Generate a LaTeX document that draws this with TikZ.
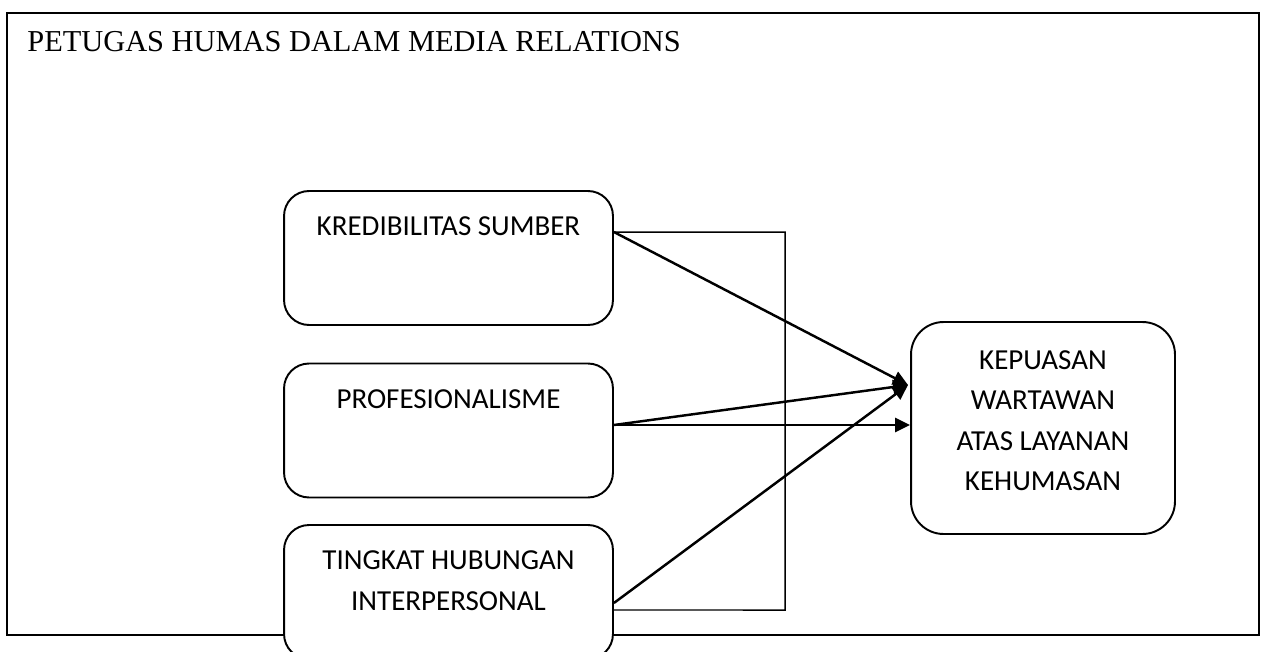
\documentclass[tikz,border=0pt]{standalone}
\usepackage{fontspec}
\setmainfont{Carlito}
\newfontfamily\titlefont{Liberation Serif}
\usetikzlibrary{shapes,arrows.meta,positioning}

\begin{document}
\begin{tikzpicture}[x=0.02cm,y=-0.02cm]
\tikzset{var/.style={draw,line width=1.1pt,rounded corners=0.5cm,fill=white,minimum width=6.58cm,minimum height=2.68cm,inner sep=0pt}}
\tikzset{lbl/.style={inner sep=0pt,align=center,font=\fontsize{16.5}{23}\selectfont}}
\tikzset{arr/.style={-{Triangle[length=0.3cm,width=0.28cm]},line width=1.4pt}}
\tikzset{link/.style={line width=0.85pt}}
\useasboundingbox (0,0) rectangle (1265,652);
\clip (0,0) rectangle (1265,652);
% outer frame
\draw[line width=0.9pt] (7,13) rectangle (1259,635);
\node[anchor=base west,inner sep=0pt,font=\titlefont\fontsize{17.3}{20}\selectfont] (title) at (27,52) {PETUGAS HUMAS DALAM MEDIA RELATIONS};
% variables
\node[var] (kred) at (448.5,258) {};
\node[var] (prof) at (448.5,430.5) {};
\node[var] (ting) at (448.5,592) {};
\node[var,minimum width=5.28cm,minimum height=4.24cm,rounded corners=0.65cm] (puas) at (1043,428) {};
\node[lbl,below=0.53cm of kred.north] (kredtxt) {KREDIBILITAS SUMBER};
\node[lbl,below=0.53cm of prof.north] (proftxt) {PROFESIONALISME};
\node[lbl,below=0.53cm of ting.north] (tingtxt) {TINGKAT HUBUNGAN\\INTERPERSONAL};
\node[lbl,below=0.58cm of puas.north] (puastxt) {KEPUASAN\\WARTAWAN\\ATAS LAYANAN\\KEHUMASAN};
% arrows
\coordinate (hit) at (908,385);
\coordinate (brbot) at (785,610);
\coordinate (pstart) at ([yshift=0.11cm]prof.east);
\draw[link] ([yshift=0.52cm]kred.east) -| (brbot) -- ([yshift=-0.36cm]ting.east);
\draw[arr] ([yshift=0.52cm]kred.east) -- (hit);
\draw[arr] (pstart) -- (hit);
\draw[arr] (pstart) -- (pstart -| puas.west);
\draw[arr] ([yshift=-0.22cm]ting.east) -- (hit);
\end{tikzpicture}
\end{document}
